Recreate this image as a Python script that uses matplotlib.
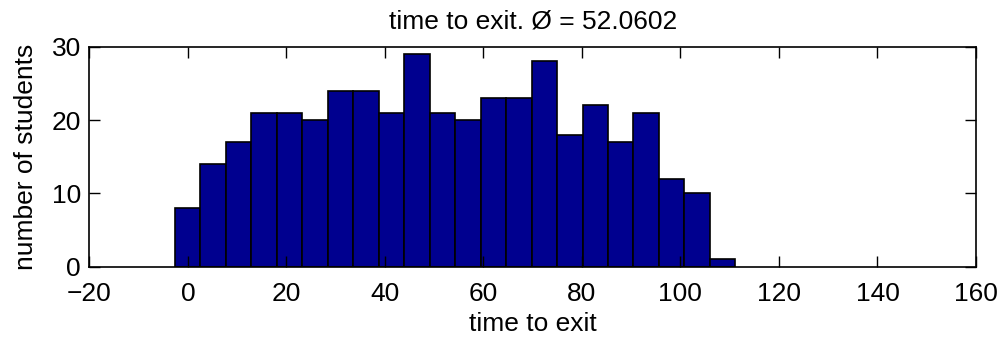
import numpy as np
import matplotlib
matplotlib.use("Agg")
import matplotlib.pyplot as plt

# histogram of exit times: counts per bin, bins of equal width
counts = [8, 14, 17, 21, 21, 20, 24, 24, 21, 29, 21, 20, 23, 23, 28, 18, 22, 17, 21, 12, 10, 1]
first_edge = -2.6
bin_width = 5.17
mean_time = 52.0602

xticks = [-20, 0, 20, 40, 60, 80, 100, 120, 140, 160]
yticks = [0, 10, 20, 30]

plt.rcParams["font.family"] = ["Liberation Sans", "DejaVu Sans"]
plt.rcParams["font.size"] = 19

fig = plt.figure(figsize=(10.05, 3.43), dpi=100, facecolor="white")
ax = fig.add_axes([89.3 / 1005, 1 - 266.7 / 343, (976 - 89.3) / 1005, (266.7 - 46.7) / 343])

lefts = first_edge + bin_width * np.arange(len(counts))
ax.bar(lefts, counts, width=bin_width, align="edge",
       facecolor="#00008F", edgecolor="black", linewidth=1.2)

ax.set_xlim(-20, 160)
ax.set_ylim(0, 30)
ax.set_xticks(xticks)
ax.set_yticks(yticks)
ax.set_xticklabels(["\u2212" + str(-t) if t < 0 else str(t) for t in xticks])
ax.tick_params(direction="in", length=8, width=1, top=True, right=True, labelsize=19)
ax.tick_params(axis="x", pad=11)
ax.tick_params(axis="y", pad=6)
for spine in ax.spines.values():
    spine.set_linewidth(1.2)

ax.set_xlabel("time to exit", labelpad=4)
ax.set_ylabel("number of students", labelpad=10)
ax.set_title(f"time to exit. \u00d8 = {mean_time}", fontsize=19, pad=13)

fig.savefig("out.png", dpi=100, facecolor="white")
